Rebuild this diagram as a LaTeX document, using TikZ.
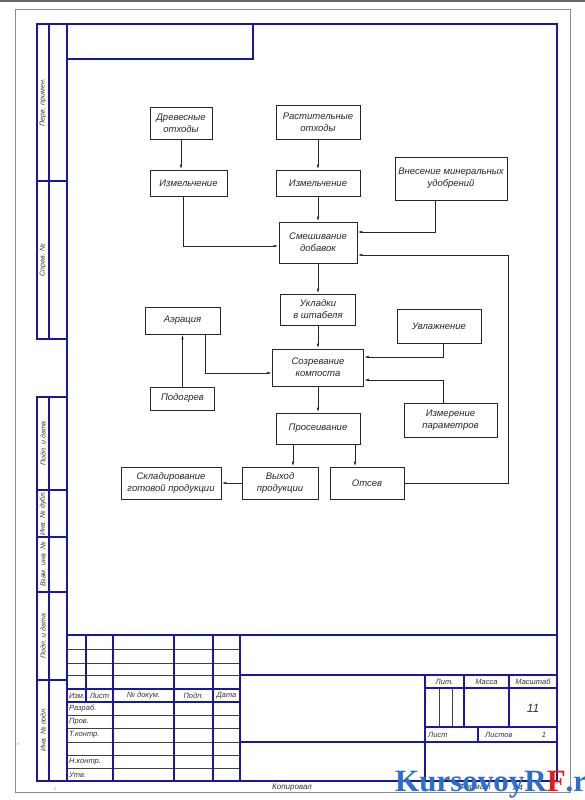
\documentclass[tikz,border=0pt]{standalone}
\usepackage{fontspec}
\setmainfont{Liberation Sans}
\newfontfamily\wmfont{Liberation Serif}
\usetikzlibrary{arrows.meta}
\definecolor{frameblue}{RGB}{24,24,165}
\definecolor{wmblue}{RGB}{45,110,200}
\definecolor{wmred}{RGB}{225,30,30}

\begin{document}
\begin{tikzpicture}[x=1pt, y=-1pt, >={Latex[length=5pt,width=2.4pt]},
  blk/.style={draw=black!85, line width=0.7pt, align=center, inner sep=1pt, text=black!85,
    font=\itshape\fontsize{9.5}{12}\selectfont},
  arr/.style={->, line width=0.7pt, draw=black!85},
  frm/.style={draw=frameblue, line width=1.4pt},
  thn/.style={draw=black!75, line width=0.5pt},
  lbl/.style={inner sep=0pt, text=black!80, font=\itshape\fontsize{7.5}{8}\selectfont},
  side/.style={lbl, rotate=90, font=\itshape\fontsize{7}{8}\selectfont}]
\useasboundingbox (0,0) rectangle (585,800);

% sheet edges
\draw[black!60, line width=1.2pt] (0,1) -- (585,1);
\draw[black!45, line width=0.6pt] (15,9) rectangle (570,792);
\node[lbl, font=\fontsize{4}{4}\selectfont, text=black!40] (mx) at (55,789) {X};
\node[lbl, font=\fontsize{4}{4}\selectfont, text=black!40, rotate=90] (my) at (18,744) {X};

% frame
\draw[frm] (67,24) rectangle (557,781);
\draw[frm] (67,24) rectangle (253,59);
\draw[frm] (37,24) rectangle (67,339);
\draw[frm] (49,24) -- (49,339);
\draw[frm] (37,181) -- (67,181);
\draw[frm] (37,397) rectangle (67,781);
\draw[frm] (49,397) -- (49,781);
\foreach \y in {490,537,592,680}
  \draw[frm] (37,\y) -- (67,\y);

\node[side] (s1) at (43,102.5) {Перв. примен.};
\node[side] (s2) at (43,260) {Справ. №};
\node[side] (s3) at (43,443.5) {Подп. и дата};
\node[side] (s4) at (43,513.5) {Инв. № дубл.};
\node[side] (s5) at (43,564.5) {Взам. инв. №};
\node[side] (s6) at (43,636) {Подп. и дата};
\node[side] (s7) at (43,729.5) {Инв. № подл.};

% title block
\draw[frm] (67,635) -- (557,635);
\foreach \y in {649,663,675,715,728,742,755,768}
  \draw[thn] (68,\y) -- (240,\y);
\foreach \y in {689,702}
  \draw[frm] (68,\y) -- (240,\y);
\draw[frm] (86,635) -- (86,702);
\foreach \x in {113,174,213,240}
  \draw[frm] (\x,635) -- (\x,781);
\foreach \y in {675,742}
  \draw[frm] (240,\y) -- (557,\y);
\draw[frm] (425,675) -- (425,781);
\draw[frm] (425,688) -- (557,688);
\draw[frm] (425,727) -- (557,727);
\draw[frm] (464,675) -- (464,727);
\draw[frm] (509,675) -- (509,727);
\draw[frm] (478,727) -- (478,742);
\draw[thn] (439,688) -- (439,727);
\draw[thn] (452,688) -- (452,727);

\node[lbl] (h1) at (77,695.5) {Изм.};
\node[lbl] (h2) at (99.5,695.5) {Лист};
\node[lbl] (h3) at (143.5,695.5) {№ докум.};
\node[lbl] (h4) at (193.5,695.5) {Подп.};
\node[lbl] (h5) at (226.5,695.5) {Дата};
\node[lbl, anchor=west] (r1) at (69,708.5) {Разраб.};
\node[lbl, anchor=west] (r2) at (69,721.5) {Пров.};
\node[lbl, anchor=west] (r3) at (69,735) {Т.контр.};
\node[lbl, anchor=west] (r4) at (69,761.5) {Н.контр.};
\node[lbl, anchor=west] (r5) at (69,774.5) {Утв.};
\node[lbl] (lit) at (444.5,681.5) {Лит.};
\node[lbl] (massa) at (486.5,681.5) {Масса};
\node[lbl] (masht) at (533,681.5) {Масштаб};
\node[lbl, font=\itshape\fontsize{12}{12}\selectfont] (scale) at (533,708) {11};
\node[lbl, anchor=west] (list) at (428,734.5) {Лист};
\node[lbl, anchor=west] (listov) at (485,734.5) {Листов};
\node[lbl] (nlist) at (544,734.5) {1};
\node[lbl, font=\itshape\fontsize{8}{8}\selectfont] (kop) at (292,788) {Копировал};
\node[lbl, font=\itshape\fontsize{8}{8}\selectfont] (fmt) at (475,788) {Формат};
\node[lbl, font=\itshape\fontsize{8}{8}\selectfont] (a4) at (518,788) {А4};

% flow chart
\node[blk, minimum width=62pt, minimum height=32pt] (drev) at (181,123) {Древесные\\отходы};
\node[blk, minimum width=84pt, minimum height=34pt] (rast) at (318,122) {Растительные\\отходы};
\node[blk, minimum width=77pt, minimum height=26pt] (izm1) at (188.5,183) {Измельчение};
\node[blk, minimum width=84pt, minimum height=26pt] (izm2) at (318,183) {Измельчение};
\node[blk, minimum width=112pt, minimum height=43pt] (vnes) at (451,178.5) {Внесение минеральных\\удобрений};
\node[blk, minimum width=78pt, minimum height=41pt] (smesh) at (318,242.5) {Смешивание\\добавок};
\node[blk, minimum width=75pt, minimum height=31pt] (ukl) at (318,309.5) {Укладки\\в штабеля};
\node[blk, minimum width=75pt, minimum height=27pt] (aer) at (182.5,320.5) {Аэрация};
\node[blk, minimum width=64pt, minimum height=23pt] (podogr) at (182.5,398.5) {Подогрев};
\node[blk, minimum width=91pt, minimum height=37pt] (sozr) at (318,367.5) {Созревание\\компоста};
\node[blk, minimum width=84pt, minimum height=34pt] (uvl) at (439,326) {Увлажнение};
\node[blk, minimum width=93pt, minimum height=34pt] (izmer) at (450.5,420) {Измерение\\параметров};
\node[blk, minimum width=84pt, minimum height=31pt] (pros) at (318,428.5) {Просеивание};
\node[blk, minimum width=76pt, minimum height=32pt] (vyh) at (280,483) {Выход\\продукции};
\node[blk, minimum width=74pt, minimum height=32pt] (otsev) at (367,483) {Отсев};
\node[blk, minimum width=100pt, minimum height=32pt] (sklad) at (171,483) {Складирование\\готовой продукции};
\coordinate (ret) at (508,483);

\draw[arr] (drev.south) -- (drev.south |- izm1.north);
\draw[arr] (rast) -- (izm2);
\draw[arr] (izm2) -- (smesh);
\draw[arr] ([xshift=-5.5pt]izm1.south) |- ([yshift=-3.5pt]smesh.west);
\draw[arr] ([xshift=-16pt]vnes.south) |- ([yshift=10.5pt]smesh.east);
\draw[arr] (otsev.east) -- (ret) |- ([yshift=-12.5pt]smesh.east);
\draw[arr] (smesh) -- (ukl);
\draw[arr] (ukl) -- (sozr);
\draw[arr] (podogr) -- (aer);
\draw[arr] ([xshift=22.5pt]aer.south) |- ([yshift=-5.5pt]sozr.west);
\draw[arr] ([xshift=4pt]uvl.south) |- ([yshift=10.5pt]sozr.east);
\draw[arr] ([xshift=-7.5pt]izmer.north) |- ([yshift=-12.5pt]sozr.east);
\draw[arr] (sozr) -- (pros);
\draw[arr] ([xshift=-25pt]pros.south) -- ([xshift=-25pt]pros.south |- vyh.north);
\draw[arr] ([xshift=37pt]pros.south) -- ([xshift=37pt]pros.south |- otsev.north);
\draw[arr] (vyh.west) -- (sklad.east);

% watermark
\node[inner sep=0pt, anchor=base west] (wm) at (395,791)
  {\wmfont\bfseries\fontsize{31}{31}\selectfont\color{wmblue}KursovoyR\color{wmred}F\color{wmblue}.ru};
\end{tikzpicture}
\end{document}
